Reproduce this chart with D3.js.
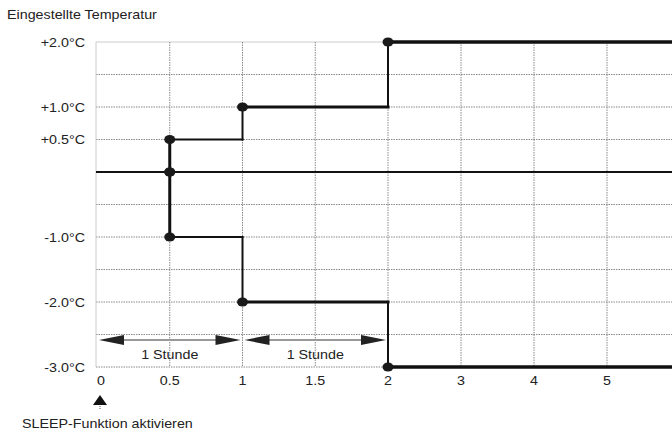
<!DOCTYPE html>
<html>
<head>
<meta charset="utf-8">
<script src="https://cdn.jsdelivr.net/npm/d3@7"></script>
<style>
  body { margin: 0; background: #fff; }
  text { font-family: "Liberation Sans", Arial, sans-serif; fill: #222; }
</style>
</head>
<body>
<div id="chart"></div>
<script>
// Temperature steps (°C) against hours after SLEEP activation
const gridTemps = [2, 1.5, 1, 0.5, 0, -0.5, -1, -1.5, -2, -2.5, -3];
const tempTicks = [2, 1, 0.5, -1, -2, -3];
const tempLabels = ['+2.0°C', '+1.0°C', '+0.5°C', '-1.0°C', '-2.0°C', '-3.0°C'];
const hourTicks = [0, 0.5, 1, 1.5, 2, 3, 4, 5];
const hourLabels = ['0', '0.5', '1', '1.5', '2', '3', '4', '5'];

const stepHours = [0.5, 0.5, 1, 1, 2, 2, 6];
const riseTemps = [0, 0.5, 0.5, 1, 1, 2, 2];
const fallTemps = [0, -1, -1, -2, -2, -3, -3];
const dotIndex = [0, 1, 3, 5];

const spans = [[0, 1], [1, 2]];
const spanLabel = '1 Stunde';
const title = 'Eingestellte Temperatur';
const startLabel = 'SLEEP-Funktion aktivieren';

const DIM = { width: 672, height: 432, left: 96, top: 42, bottom: 367, right: 672 };
const SEG_WIDTH = [3, 2, 2, 3, 2, 3.5];
const STRETCH = 1.1;
const FONT = 13;

const x = d3.scaleLinear().domain([0, 2, 6]).range([97, 388, 680]);
const y = d3.scaleLinear().domain([-3, 2]).range([DIM.bottom, DIM.top]);

const svg = d3.select('#chart').append('svg')
  .attr('width', DIM.width)
  .attr('height', DIM.height);

function label(sel, tx, ty, txt, anchor) {
  return sel.append('text')
    .text(txt)
    .attr('font-size', FONT)
    .attr('text-anchor', anchor)
    .attr('transform', `translate(${tx},${ty}) scale(${STRETCH},1)`);
}

// Grid
svg.append('g').selectAll('line')
    .data(gridTemps)
  .enter().append('line')
    .attr('x1', DIM.left)
    .attr('x2', DIM.right)
    .attr('y1', d => y(d))
    .attr('y2', d => y(d))
    .attr('stroke', d => d === 2 ? '#ccc' : '#8a8a8a')
    .attr('stroke-dasharray', d => d === 2 ? null : '1.5,1');

svg.append('g').selectAll('line')
    .data(hourTicks.slice(1))
  .enter().append('line')
    .attr('x1', d => x(d))
    .attr('x2', d => x(d))
    .attr('y1', DIM.top)
    .attr('y2', DIM.bottom)
    .attr('stroke', '#8a8a8a')
    .attr('stroke-dasharray', '1.5,1');

svg.append('line')
  .attr('x1', DIM.left).attr('x2', DIM.left)
  .attr('y1', DIM.top).attr('y2', DIM.bottom)
  .attr('stroke', '#ccc');

// Labels
label(svg, 7, 19, title, 'start');
tempTicks.forEach((t, i) => label(svg, 85, y(t) + 4.5, tempLabels[i], 'end'));
// first label sits a little right of the axis line
hourTicks.forEach((h, i) => label(svg, x(h) + (i === 0 ? 4 : 0), 385, hourLabels[i], 'middle'));

// Hour spans with arrows
spans.forEach(s => {
  let x1 = x(s[0]) + 2, x2 = x(s[1]) - 2, ay = 340;
  svg.append('line')
    .attr('x1', x1 + 10).attr('x2', x2 - 10)
    .attr('y1', ay).attr('y2', ay)
    .attr('stroke', '#999')
    .attr('stroke-width', 2);
  svg.append('path')
    .attr('d', `M${x1},${ay}L${x1 + 25},${ay - 5}L${x1 + 25},${ay + 5}Z`)
    .attr('fill', '#222');
  svg.append('path')
    .attr('d', `M${x2},${ay}L${x2 - 25},${ay - 5}L${x2 - 25},${ay + 5}Z`)
    .attr('fill', '#222');
  label(svg, (x1 + x2) / 2, 359, spanLabel, 'middle');
});

// Zero line
svg.append('line')
  .attr('x1', DIM.left).attr('x2', DIM.right)
  .attr('y1', y(0)).attr('y2', y(0))
  .attr('stroke', '#111')
  .attr('stroke-width', 2);

// Step paths
for (let temps of [riseTemps, fallTemps]) {
  for (let i = 0; i < stepHours.length - 1; i++) {
    svg.append('line')
      .attr('x1', x(stepHours[i]))
      .attr('y1', y(temps[i]))
      .attr('x2', x(stepHours[i + 1]))
      .attr('y2', y(temps[i + 1]))
      .attr('stroke', '#111')
      .attr('stroke-width', SEG_WIDTH[i])
      .attr('stroke-linecap', 'square');
  }
  svg.append('g').selectAll('ellipse')
      .data(dotIndex)
    .enter().append('ellipse')
      .attr('cx', i => x(stepHours[i]))
      .attr('cy', i => y(temps[i]))
      .attr('rx', 5.5)
      .attr('ry', 4.5)
      .attr('fill', '#1a1a1a');
}

// Start marker
svg.append('path')
  .attr('d', `M${x(0) + 3},395L${x(0) + 10},405L${x(0) - 4},405Z`)
  .attr('fill', '#111');
svg.append('line')
  .attr('x1', x(0) + 3).attr('x2', x(0) + 3)
  .attr('y1', 406).attr('y2', 410)
  .attr('stroke', '#555')
  .attr('stroke-dasharray', '1,1');
label(svg, 22, 428, startLabel, 'start');
</script>
</body>
</html>
